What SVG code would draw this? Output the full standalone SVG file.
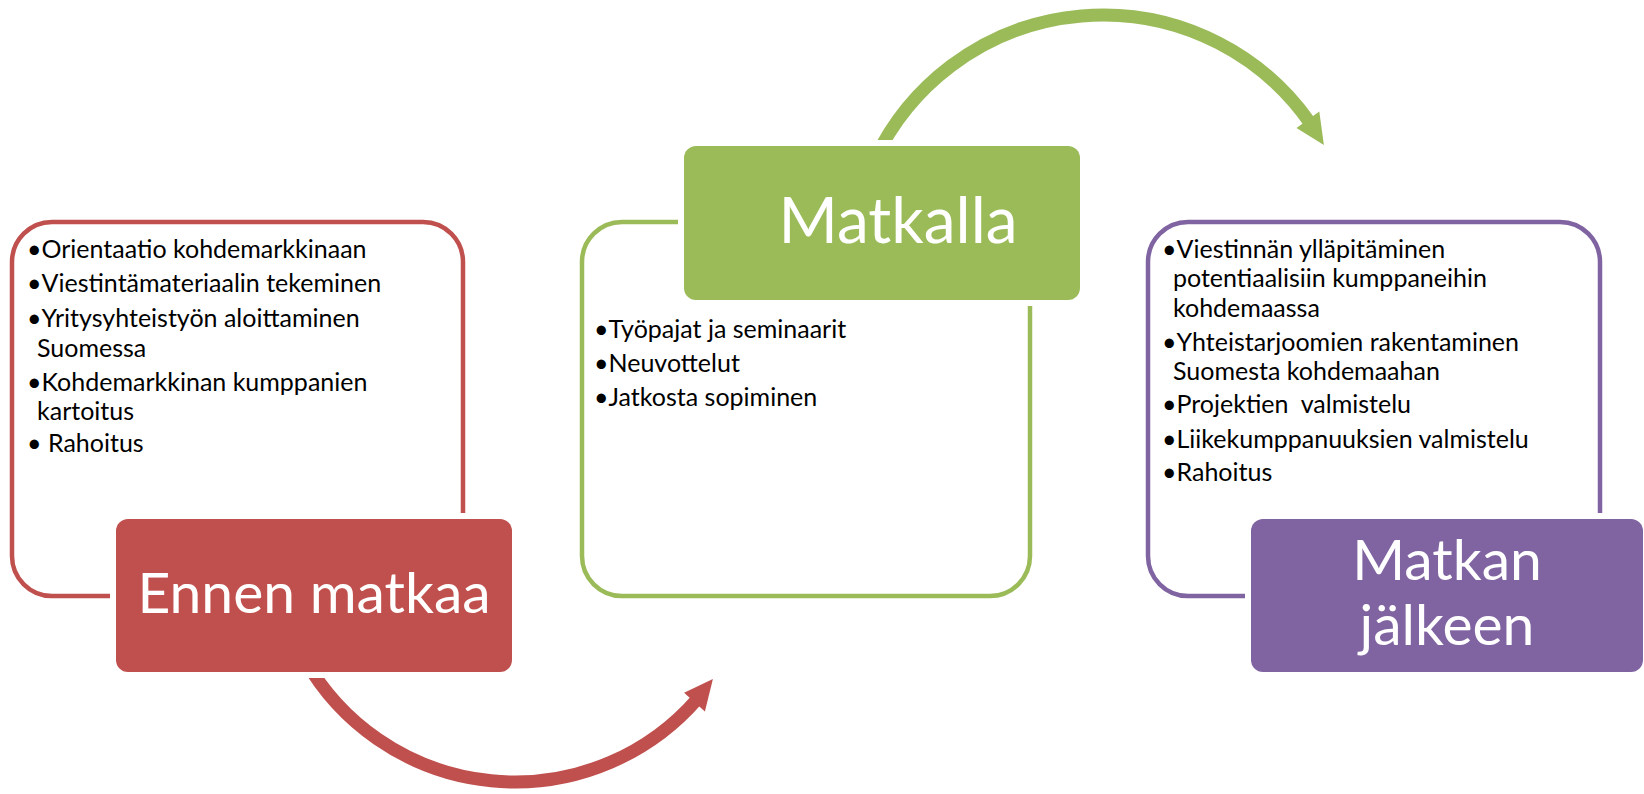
<svg xmlns="http://www.w3.org/2000/svg" width="1644" height="794" viewBox="0 0 1644 794">
<style>
.body{font-family:Lato,"Liberation Sans",sans-serif;font-size:25px;fill:#000}
.title{font-family:Lato,"Liberation Sans",sans-serif;fill:#fff;text-anchor:middle}
.outline{fill:#fff;stroke-width:4.5}
.head{stroke:#fff;stroke-width:12;paint-order:stroke}
.arc{fill:none;stroke-width:13}
</style>
<rect width="1644" height="794" fill="#fff"/>
<g id="connectors">
<path class="arc" stroke="#C0504D" d="M 305.1 660 A 241.6 241.6 0 0 0 697.3 698.9"/>
<polygon fill="#C0504D" points="712.9,679 684.1,692.7 704.9,711.5"/>
<path class="arc" stroke="#9BBB59" d="M 874.5 160 A 252.6 252.6 0 0 1 1309.9 122.7"/>
<polygon fill="#9BBB59" points="1323.9,145.1 1319.3,111.6 1296.5,128"/>
</g>
<g id="node-ennen">
<rect class="outline" stroke="#C0504D" x="12" y="222" width="451" height="374" rx="40"/>
<text class="body" x="27" y="258">•Orientaatio kohdemarkkinaan</text>
<text class="body" x="27" y="292">•Viestintämateriaalin tekeminen</text>
<text class="body" x="27" y="327">•Yritysyhteistyön aloittaminen</text>
<text class="body" x="37" y="357">Suomessa</text>
<text class="body" x="27" y="391">•Kohdemarkkinan kumppanien</text>
<text class="body" x="37" y="420">kartoitus</text>
<text class="body" x="27" y="452">• Rahoitus</text>
<rect class="head" fill="#C0504D" x="116" y="519" width="396" height="153" rx="12"/>
<text class="title" x="314" y="613" font-size="57">Ennen matkaa</text>
</g>
<g id="node-matkalla">
<rect class="outline" stroke="#9BBB59" x="582" y="222" width="448" height="374" rx="40"/>
<text class="body" x="594" y="338">•Työpajat ja seminaarit</text>
<text class="body" x="594" y="372">•Neuvottelut</text>
<text class="body" x="594" y="406">•Jatkosta sopiminen</text>
<rect class="head" fill="#9BBB59" x="684" y="146" width="396" height="154" rx="12"/>
<text class="title" x="898" y="243" font-size="64">Matkalla</text>
</g>
<g id="node-jalkeen">
<rect class="outline" stroke="#8064A2" x="1148" y="222" width="452" height="374" rx="40"/>
<text class="body" x="1162" y="258">•Viestinnän ylläpitäminen</text>
<text class="body" x="1173" y="287">potentiaalisiin kumppaneihin</text>
<text class="body" x="1173" y="317">kohdemaassa</text>
<text class="body" x="1162" y="351">•Yhteistarjoomien rakentaminen</text>
<text class="body" x="1173" y="380">Suomesta kohdemaahan</text>
<text class="body" x="1162" y="413" xml:space="preserve">•Projektien  valmistelu</text>
<text class="body" x="1162" y="448">•Liikekumppanuuksien valmistelu</text>
<text class="body" x="1162" y="481">•Rahoitus</text>
<rect class="head" fill="#8064A2" x="1251" y="519" width="392" height="153" rx="12"/>
<text class="title" x="1447" y="580" font-size="57">Matkan</text>
<text class="title" x="1447" y="645" font-size="57">jälkeen</text>
</g>
</svg>
